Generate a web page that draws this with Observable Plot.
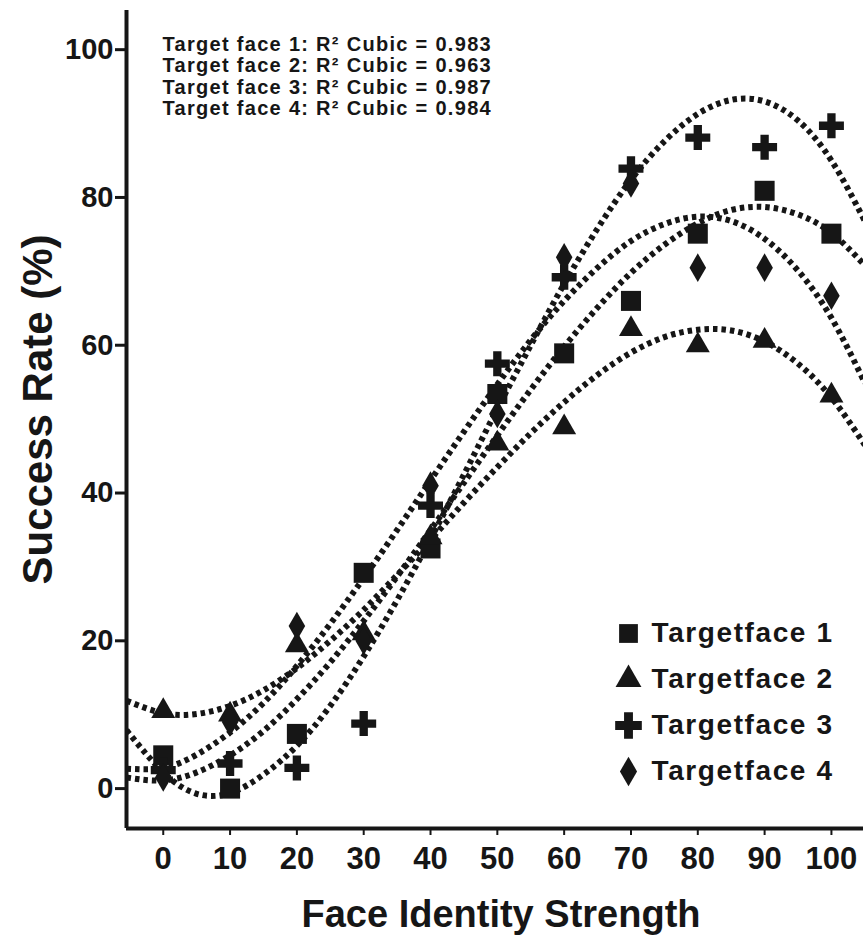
<!DOCTYPE html>
<html>
<head>
<meta charset="utf-8">
<script src="https://cdn.jsdelivr.net/npm/d3@7"></script>
<script src="https://cdn.jsdelivr.net/npm/@observablehq/plot@0.6"></script>
<style>
  body { margin: 0; background: #fff; }
  #chart svg { display: block; }
</style>
</head>
<body>
<div id="chart"></div>
<script>
// ---- data ----
const strengths = [0, 10, 20, 30, 40, 50, 60, 70, 80, 90, 100];
const face1 = [4.5, 0.0, 7.4, 29.2, 32.5, 53.4, 58.9, 66.0, 75.1, 80.9, 75.1];
const face2 = [10.5, 10.0, 19.4, 21.0, 34.0, 46.7, 48.9, 62.2, 60.0, 60.6, 53.2];
const face3 = [2.5, 3.4, 2.8, 8.8, 38.3, 57.5, 69.2, 83.9, 88.1, 86.8, 89.7];
const face4 = [1.5, 9.0, 22.0, 20.0, 41.0, 50.7, 71.9, 81.9, 70.5, 70.5, 66.7];

// dotted cubic-fit curves, read along x
const fitX = [-5.5, 0, 5, 10, 15, 20, 25, 30, 35, 40, 45, 50, 55, 60, 65, 70, 75, 80, 85, 90, 95, 100, 105];
const fit1 = [1.5, 1.1, 2.2, 4.5, 7.8, 12.1, 17.1, 22.7, 28.7, 35.0, 41.4, 47.8, 54.0, 59.8, 65.1, 69.8, 73.6, 76.5, 78.3, 78.7, 77.7, 75.2, 70.8];
const fit2 = [11.9, 10.2, 10.1, 11.2, 13.3, 16.3, 20.0, 24.2, 28.9, 33.7, 38.7, 43.5, 48.1, 52.3, 56.0, 59.0, 61.1, 62.1, 62.0, 60.5, 57.5, 52.9, 46.5];
const fit3 = [7.9, 2.2, -0.7, -0.6, 1.9, 5.8, 11.2, 17.9, 25.5, 33.8, 42.5, 51.4, 60.0, 68.3, 75.8, 82.4, 87.6, 91.3, 93.2, 93.0, 90.4, 85.0, 76.8];
const fit4 = [2.7, 2.8, 4.6, 7.6, 11.6, 16.6, 22.3, 28.5, 35.0, 41.7, 48.3, 54.7, 60.7, 66.0, 70.5, 74.1, 76.4, 77.4, 76.8, 74.4, 70.1, 63.7, 54.9];

const seriesNames = ["Targetface 1", "Targetface 2", "Targetface 3", "Targetface 4"];
const annotationNames = ["Target face 1", "Target face 2", "Target face 3", "Target face 4"];
const rSquared = [0.983, 0.963, 0.987, 0.984];
const yTicks = [0, 20, 40, 60, 80, 100];
const xTicks = [0, 10, 20, 30, 40, 50, 60, 70, 80, 90, 100];

// ---- styling ----
const ink = "#161616";
const xDomain = [-5.5, 104.8];
const yDomain = [-5.4, 105.3];
const symbols = ["square", "triangle", "cross", "diamond"];
const dotR = [11.3, 8.9, 10.5, 8.7];
const legendR = [10.6, 9.6, 11.2, 9.0];

const faces = [face1, face2, face3, face4];
const fits = [fit1, fit2, fit3, fit4];

const points = faces.map(arr => arr.map((v, j) => ({x: strengths[j], y: v})));
const curves = fits.map(arr => arr.map((v, j) => ({x: fitX[j], y: v})));

const marks = [];
curves.forEach(c => marks.push(
  Plot.line(c, {x: "x", y: "y", curve: "natural", stroke: ink, strokeWidth: 6,
    strokeDasharray: "4.5,4", strokeLinecap: "butt", clip: true})
));
points.forEach((p, i) => marks.push(
  Plot.dot(p, {x: "x", y: "y", symbol: symbols[i], r: dotR[i], fill: ink, stroke: "none"})
));
marks.push(
  Plot.ruleX([xDomain[0]], {stroke: ink, strokeWidth: 4}),
  Plot.ruleY([yDomain[0]], {stroke: ink, strokeWidth: 4}),
  Plot.axisY({ticks: yTicks, tickSize: 11, tickPadding: 2, stroke: ink, strokeWidth: 3,
    fontSize: 29, fontWeight: "bold", label: null}),
  Plot.axisX({ticks: xTicks, tickSize: 7, tickPadding: 11, stroke: ink, strokeWidth: 2,
    fontSize: 31, fontWeight: "bold", label: null}),
  Plot.text(["Success Rate (%)"], {frameAnchor: "left", dx: -88, dy: -10, rotate: -90,
    fontSize: 42, fontWeight: "bold", fill: ink, textAnchor: "middle", lineAnchor: "middle"}),
  Plot.text(["Face Identity Strength"], {frameAnchor: "bottom", dx: 6, dy: 86,
    fontSize: 38, fontWeight: "bold", fill: ink, textAnchor: "middle", lineAnchor: "middle"})
);
// R² annotation lines, one per target face
annotationNames.forEach((n, i) => {
  marks.push(Plot.text([`${n}: R\u00B2 Cubic = ${rSquared[i].toFixed(3)}`], {
    frameAnchor: "top-left", dx: 36, dy: 26 + 21.5 * i, textAnchor: "start",
    lineAnchor: "top", fontSize: 20, fontWeight: "bold", fill: ink}));
});
seriesNames.forEach((name, i) => {
  marks.push(
    Plot.dot([name], {frameAnchor: "top-left", dx: 502, dy: 623 + 46 * i,
      symbol: symbols[i], r: legendR[i], fill: ink, stroke: "none"}),
    Plot.text([name], {frameAnchor: "top-left", dx: 525, dy: 623 + 46 * i,
      textAnchor: "start", lineAnchor: "middle", fontSize: 28, fontWeight: "bold", fill: ink})
  );
});

const chart = Plot.plot({
  width: 863,
  height: 940,
  marginLeft: 126,
  marginRight: 0,
  marginTop: 10,
  marginBottom: 112,
  x: {domain: xDomain},
  y: {domain: yDomain},
  style: {fontFamily: "'Liberation Sans', Arial, sans-serif", fontWeight: "bold", color: ink, background: "#fff", overflow: "visible"},
  marks
});

const svg = d3.select(chart);
svg.selectAll("text")
  .filter(function() { return /^Targetface/.test(this.textContent); })
  .style("letter-spacing", "1.6px");
svg.selectAll("text")
  .filter(function() { return /^Target face/.test(this.textContent); })
  .style("letter-spacing", "1.3px");

document.getElementById("chart").appendChild(chart);
</script>
</body>
</html>
